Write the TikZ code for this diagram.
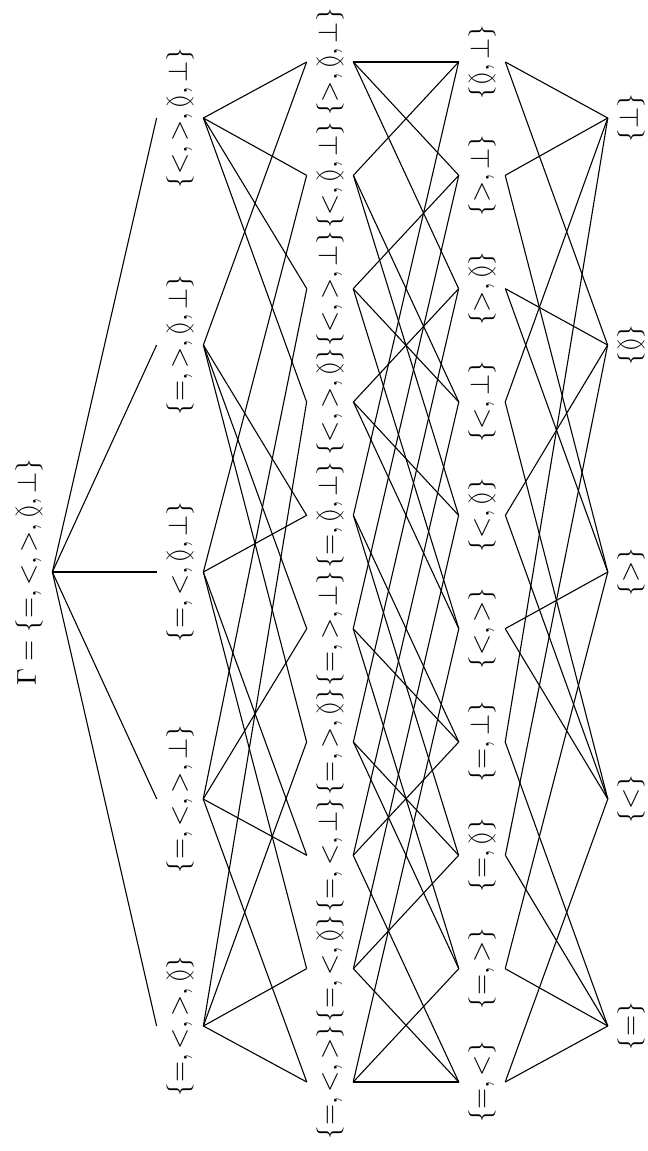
\documentclass[tikz,border=0pt]{standalone}
\usepackage{amssymb}
\begin{document}
\begin{tikzpicture}[x=0.3676pt,y=-0.3676pt,
  lab/.style={rotate=90, inner sep=0.3333em},
  edge/.style={line width=0.4pt}]
\useasboundingbox (0,0) rectangle (648,1151);
% root
\node[lab] (r) at (29,572) {$\Gamma=\{=,<,>,\between,\bot\}$};
% level 1
\node[lab] (n1234) at (180,1026) {$\{=,<,>,\between\}$};
\node[lab] (n1235) at (180,799) {$\{=,<,>,\bot\}$};
\node[lab] (n1245) at (180,572) {$\{=,<,\between,\bot\}$};
\node[lab] (n1345) at (180,345) {$\{=,>,\between,\bot\}$};
\node[lab] (n2345) at (180,118) {$\{<,>,\between,\bot\}$};
% level 2
\node[lab] (n123) at (330,1082) {$\{=,<,>\}$};
\node[lab] (n124) at (330,968.67) {$\{=,<,\between\}$};
\node[lab] (n125) at (330,855.33) {$\{=,<,\bot\}$};
\node[lab] (n134) at (330,742) {$\{=,>,\between\}$};
\node[lab] (n135) at (330,628.67) {$\{=,>,\bot\}$};
\node[lab] (n145) at (330,515.33) {$\{=,\between,\bot\}$};
\node[lab] (n234) at (330,402) {$\{<,>,\between\}$};
\node[lab] (n235) at (330,288.67) {$\{<,>,\bot\}$};
\node[lab] (n245) at (330,175.33) {$\{<,\between,\bot\}$};
\node[lab] (n345) at (330,62) {$\{>,\between,\bot\}$};
% level 3
\node[lab] (n12) at (482,1082) {$\{=,<\}$};
\node[lab] (n13) at (482,968.67) {$\{=,>\}$};
\node[lab] (n14) at (482,855.33) {$\{=,\between\}$};
\node[lab] (n15) at (482,742) {$\{=,\bot\}$};
\node[lab] (n23) at (482,628.67) {$\{<,>\}$};
\node[lab] (n24) at (482,515.33) {$\{<,\between\}$};
\node[lab] (n25) at (482,402) {$\{<,\bot\}$};
\node[lab] (n34) at (482,288.67) {$\{>,\between\}$};
\node[lab] (n35) at (482,175.33) {$\{>,\bot\}$};
\node[lab] (n45) at (482,62) {$\{\between,\bot\}$};
% level 4
\node[lab] (n1) at (631,1026) {$\{=\}$};
\node[lab] (n2) at (631,799) {$\{<\}$};
\node[lab] (n3) at (631,572) {$\{>\}$};
\node[lab] (n4) at (631,345) {$\{\between\}$};
\node[lab] (n5) at (631,118) {$\{\bot\}$};
% edges
\foreach \b in {1234,1235,1245,1345,2345}
  \draw[edge] (r.south) -- (n\b.north);
\foreach \a/\b in {1234/123,1234/124,1234/134,1234/234,
                   1235/123,1235/125,1235/135,1235/235,
                   1245/124,1245/125,1245/145,1245/245,
                   1345/134,1345/135,1345/145,1345/345,
                   2345/234,2345/235,2345/245,2345/345,
                   123/12,123/13,123/23,
                   124/12,124/14,124/24,
                   125/12,125/15,125/25,
                   134/13,134/14,134/34,
                   135/13,135/15,135/35,
                   145/14,145/15,145/45,
                   234/23,234/24,234/34,
                   235/23,235/25,235/35,
                   245/24,245/25,245/45,
                   345/34,345/35,345/45,
                   12/1,12/2,13/1,13/3,14/1,14/4,15/1,15/5,
                   23/2,23/3,24/2,24/4,25/2,25/5,
                   34/3,34/4,35/3,35/5,45/4,45/5}
  \draw[edge] (n\a.south) -- (n\b.north);
\end{tikzpicture}
\end{document}
